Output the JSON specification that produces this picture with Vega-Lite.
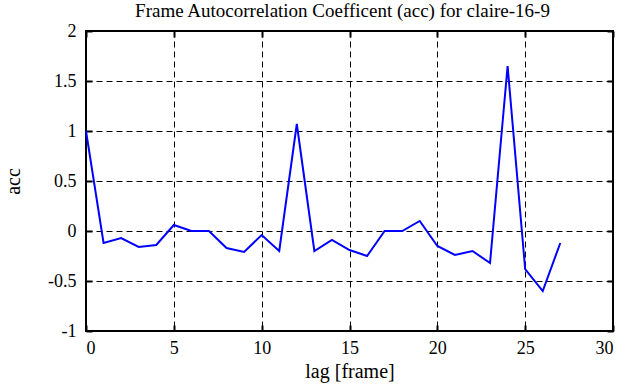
{
  "$schema": "https://vega.github.io/schema/vega-lite/v6.json",
  "autosize": "none",
  "width": 527,
  "height": 300,
  "padding": {"left": 86, "top": 31, "right": 17, "bottom": 56},
  "background": "white",
  "title": {
    "text": "Frame Autocorrelation Coefficent (acc) for claire-16-9",
    "font": "Liberation Serif",
    "fontSize": 19,
    "fontWeight": "normal",
    "color": "black",
    "anchor": "middle",
    "frame": "group",
    "baseline": "alphabetic",
    "offset": 17,
    "dx": -7,
    "dy": 30.5
  },
  "config": {
    "view": {"stroke": "black", "strokeWidth": 2},
    "axis": {
      "labelFont": "Liberation Serif",
      "labelFontSize": 18,
      "labelColor": "black",
      "titleFont": "Liberation Serif",
      "titleFontSize": 20,
      "titleFontWeight": "normal",
      "titleColor": "black",
      "domain": false,
      "tickColor": "black",
      "tickWidth": 2,
      "tickSize": 6,
      "gridColor": "black",
      "gridOpacity": 1,
      "gridWidth": 1,
      "gridDash": [6, 4]
    }
  },
  "data": {
    "values": [
      {"lag": 0, "acc": 1.0},
      {"lag": 1, "acc": -0.12},
      {"lag": 2, "acc": -0.07},
      {"lag": 3, "acc": -0.16},
      {"lag": 4, "acc": -0.14},
      {"lag": 5, "acc": 0.06},
      {"lag": 6, "acc": 0.0},
      {"lag": 7, "acc": 0.0},
      {"lag": 8, "acc": -0.17},
      {"lag": 9, "acc": -0.21},
      {"lag": 10, "acc": -0.04},
      {"lag": 11, "acc": -0.2},
      {"lag": 12, "acc": 1.07},
      {"lag": 13, "acc": -0.2},
      {"lag": 14, "acc": -0.09},
      {"lag": 15, "acc": -0.19},
      {"lag": 16, "acc": -0.25},
      {"lag": 17, "acc": 0.0},
      {"lag": 18, "acc": 0.0},
      {"lag": 19, "acc": 0.1},
      {"lag": 20, "acc": -0.15},
      {"lag": 21, "acc": -0.24},
      {"lag": 22, "acc": -0.2},
      {"lag": 23, "acc": -0.32},
      {"lag": 24, "acc": 1.65},
      {"lag": 25, "acc": -0.38},
      {"lag": 26, "acc": -0.6},
      {"lag": 27, "acc": -0.12}
    ]
  },
  "layer": [
    {
      "mark": {"type": "line", "opacity": 0},
      "encoding": {
        "x": {
          "field": "lag", "type": "quantitative",
          "scale": {"domain": [0, 30], "nice": false, "zero": false},
          "axis": {
            "orient": "bottom",
            "values": [0, 5, 10, 15, 20, 25, 30],
            "title": "lag [frame]",
            "ticks": false,
            "labelPadding": 8,
            "titlePadding": 4,
            "labelExpr": "'' + datum.value"
          }
        },
        "y": {
          "field": "acc", "type": "quantitative",
          "scale": {"domain": [-1, 2], "nice": false, "zero": false},
          "axis": {
            "orient": "left",
            "values": [-1, -0.5, 0, 0.5, 1, 1.5, 2],
            "title": "acc",
            "ticks": false,
            "labelPadding": 10,
            "titlePadding": 24,
            "labelExpr": "'' + datum.value"
          }
        }
      }
    },
    {
      "mark": {"type": "line", "opacity": 0},
      "encoding": {
        "x": {
          "field": "lag", "type": "quantitative",
          "scale": {"domain": [0, 30], "nice": false, "zero": false},
          "axis": {"orient": "top", "offset": -6, "values": [0, 5, 10, 15, 20, 25, 30], "labels": false, "grid": false, "title": null}
        },
        "y": {
          "field": "acc", "type": "quantitative",
          "scale": {"domain": [-1, 2], "nice": false, "zero": false},
          "axis": {"orient": "right", "offset": -6, "values": [-1, -0.5, 0, 0.5, 1, 1.5, 2], "labels": false, "grid": false, "title": null}
        }
      }
    },
    {
      "mark": {"type": "line", "color": "#0000ff", "strokeWidth": 2, "strokeJoin": "miter"},
      "encoding": {
        "x": {
          "field": "lag", "type": "quantitative",
          "scale": {"domain": [0, 30], "nice": false, "zero": false},
          "axis": {"orient": "bottom", "offset": -6, "values": [0, 5, 10, 15, 20, 25, 30], "labels": false, "grid": false, "title": null}
        },
        "y": {
          "field": "acc", "type": "quantitative",
          "scale": {"domain": [-1, 2], "nice": false, "zero": false},
          "axis": {"orient": "left", "offset": -6, "values": [-1, -0.5, 0, 0.5, 1, 1.5, 2], "labels": false, "grid": false, "title": null}
        }
      }
    }
  ],
  "resolve": {"axis": {"x": "independent", "y": "independent"}}
}
